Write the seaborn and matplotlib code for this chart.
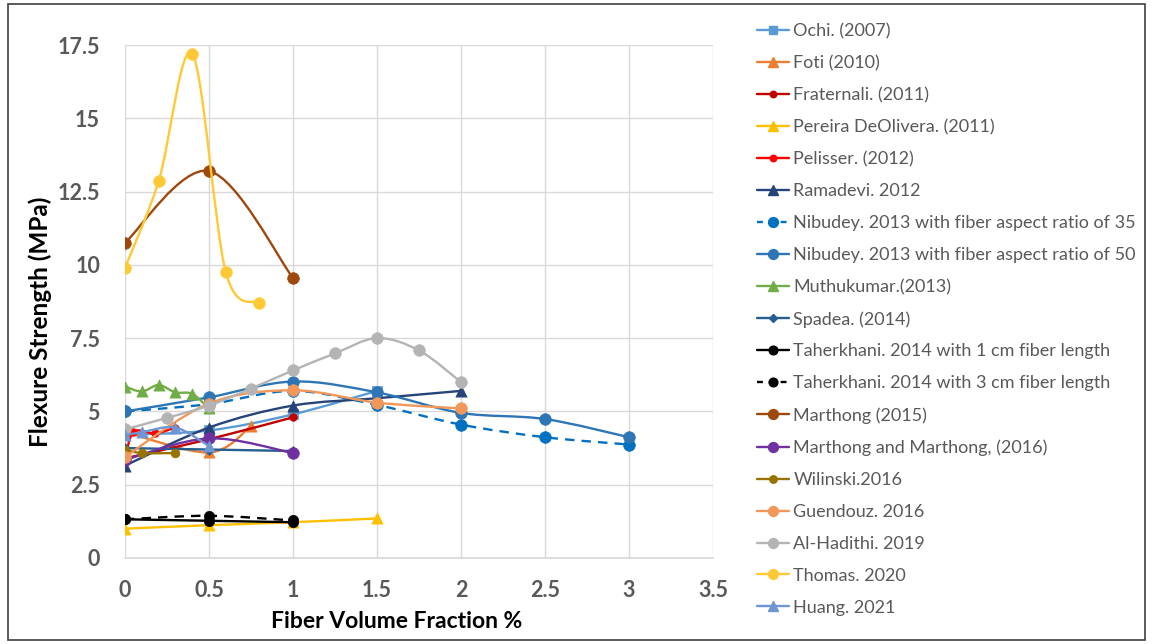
import numpy as np
import pandas as pd
import matplotlib
matplotlib.use("Agg")
import matplotlib.pyplot as plt
from matplotlib.path import Path
from matplotlib.patches import PathPatch, Rectangle
from matplotlib.lines import Line2D
import seaborn as sns

# ---------------- data ----------------
ochi_x = [0, 0.5, 1, 1.5]
ochi_y = [4.2, 4.35, 4.9, 5.7]
foti_x = [0, 0.5, 0.75]
foti_y = [4.3, 3.6, 4.5]
fraternali_x = [0, 0.5, 1]
fraternali_y = [3.4, 4.05, 4.8]
pereira_x = [0, 0.5, 1, 1.5]
pereira_y = [1.0, 1.12, 1.22, 1.35]
pelisser_x = [0, 0.05, 0.18, 0.3]
pelisser_y = [3.3, 4.3, 4.25, 4.45]
ramadevi_x = [0, 0.5, 1, 1.5, 2]
ramadevi_y = [3.15, 4.45, 5.2, 5.45, 5.7]
nib35_x = [0, 0.5, 1, 1.5, 2, 2.5, 3]
nib35_y = [5.0, 5.25, 5.7, 5.22, 4.55, 4.12, 3.87]
nib50_x = [0, 0.5, 1, 1.5, 2, 2.5, 3]
nib50_y = [5.0, 5.48, 6.02, 5.65, 4.95, 4.74, 4.12]
muthu_x = [0, 0.1, 0.2, 0.3, 0.4, 0.5]
muthu_y = [5.85, 5.68, 5.9, 5.65, 5.6, 5.1]
spadea_x = [0, 0.5, 1]
spadea_y = [3.75, 3.7, 3.65]
taher1_x = [0, 0.5, 1]
taher1_y = [1.32, 1.27, 1.22]
taher3_x = [0, 0.5, 1]
taher3_y = [1.32, 1.44, 1.28]
marthong15_x = [0, 0.5, 1]
marthong15_y = [10.75, 13.2, 9.55]
marthong16_x = [0, 0.5, 1]
marthong16_y = [3.35, 4.08, 3.58]
wilinski_x = [0, 0.1, 0.3]
wilinski_y = [3.7, 3.58, 3.58]
guendouz_x = [0, 0.5, 1, 1.5, 2]
guendouz_y = [3.45, 5.27, 5.72, 5.3, 5.1]
hadithi_x = [0, 0.25, 0.5, 0.75, 1, 1.25, 1.5, 1.75, 2]
hadithi_y = [4.39, 4.78, 5.2, 5.78, 6.4, 6.98, 7.5, 7.08, 6.0]
thomas_x = [0, 0.2, 0.4, 0.6, 0.8]
thomas_y = [9.9, 12.85, 17.2, 9.75, 8.7]
huang_x = [0, 0.1, 0.3, 0.5]
huang_y = [4.19, 4.29, 4.45, 3.82]

x_ticks = [0, 0.5, 1, 1.5, 2, 2.5, 3, 3.5]
y_ticks = [0, 2.5, 5, 7.5, 10, 12.5, 15, 17.5]
x_tick_labels = ["0", "0.5", "1", "1.5", "2", "2.5", "3", "3.5"]
y_tick_labels = ["0", "2.5", "5", "7.5", "10", "12.5", "15", "17.5"]

# label, x, y, color, marker, marker size (pt^2 for scatter), linestyle
series = [
    ("Ochi. (2007)", ochi_x, ochi_y, "#5B9BD5", "s", 55, "-"),
    ("Foti (2010)", foti_x, foti_y, "#ED7D31", "^", 65, "-"),
    ("Fraternali. (2011)", fraternali_x, fraternali_y, "#C00000", "o", 30, "-"),
    ("Pereira DeOlivera. (2011)", pereira_x, pereira_y, "#FFC000", "^", 65, "-"),
    ("Pelisser. (2012)", pelisser_x, pelisser_y, "#FF0000", "o", 30, "-"),
    ("Ramadevi. 2012", ramadevi_x, ramadevi_y, "#264478", "^", 65, "-"),
    ("Nibudey. 2013 with fiber aspect ratio of 35", nib35_x, nib35_y, "#0070C0", "o", 70, "--"),
    ("Nibudey. 2013 with fiber aspect ratio of 50", nib50_x, nib50_y, "#2E75B6", "o", 70, "-"),
    ("Muthukumar.(2013)", muthu_x, muthu_y, "#70AD47", "^", 65, "-"),
    ("Spadea. (2014)", spadea_x, spadea_y, "#255E91", "D", 25, "-"),
    ("Taherkhani. 2014 with 1 cm fiber length", taher1_x, taher1_y, "#000000", "o", 55, "-"),
    ("Taherkhani. 2014 with 3 cm fiber length", taher3_x, taher3_y, "#000000", "o", 55, "--"),
    ("Marthong (2015)", marthong15_x, marthong15_y, "#9E480E", "o", 70, "-"),
    ("Marthong and Marthong, (2016)", marthong16_x, marthong16_y, "#7030A0", "o", 70, "-"),
    ("Wilinski.2016", wilinski_x, wilinski_y, "#997300", "o", 40, "-"),
    ("Guendouz. 2016", guendouz_x, guendouz_y, "#F1975A", "o", 70, "-"),
    ("Al-Hadithi. 2019", hadithi_x, hadithi_y, "#B4B4B4", "o", 70, "-"),
    ("Thomas. 2020", thomas_x, thomas_y, "#FFC935", "o", 70, "-"),
    ("Huang. 2021", huang_x, huang_y, "#6F95D2", "^", 65, "-"),
]

sns.set_theme(style="white")
plt.rcParams['font.family'] = ['Lato', 'DejaVu Sans']

fig = plt.figure(figsize=(11.53, 6.44), dpi=100)
ax = fig.add_axes([125 / 1153, 86 / 644, 588 / 1153, 513 / 644])


def smooth_path(xs, ys):
    n = len(xs)
    verts = [(xs[0], ys[0])]
    codes = [Path.MOVETO]
    for i in range(n - 1):
        p0 = i - 1 if i > 0 else i
        p3 = i + 2 if i + 2 < n else i + 1
        c1 = (xs[i] + (xs[i + 1] - xs[p0]) / 6.0, ys[i] + (ys[i + 1] - ys[p0]) / 6.0)
        c2 = (xs[i + 1] - (xs[p3] - xs[i]) / 6.0, ys[i + 1] - (ys[p3] - ys[i]) / 6.0)
        verts += [c1, c2, (xs[i + 1], ys[i + 1])]
        codes += [Path.CURVE4] * 3
    return Path(verts, codes)


handles = []
for k, (label, xs, ys, color, marker, size, ls) in enumerate(series):
    z = 3 + k * 0.1
    patch = PathPatch(smooth_path(xs, ys), facecolor="none", edgecolor=color,
                      lw=1.7, zorder=z, capstyle="butt")
    if ls == "--":
        patch.set_linestyle((0, (4, 3)))
    ax.add_patch(patch)
    df = pd.DataFrame({"x": xs, "y": ys})
    sns.scatterplot(data=df, x="x", y="y", marker=marker, s=size, color=color,
                    edgecolor=color, linewidth=0.5, ax=ax, zorder=z + 0.05, legend=False)
    h = Line2D([0], [0], color=color, lw=1.7, marker=marker,
               markersize=np.sqrt(size) * 0.85, markeredgecolor=color,
               linestyle=(0, (2.5, 2.5)) if ls == "--" else "-")
    handles.append(h)

ax.set_xlim(0, 3.5)
ax.set_ylim(0, 17.5)
ax.set_xticks(x_ticks)
ax.set_xticklabels(x_tick_labels)
ax.set_yticks(y_ticks)
ax.set_yticklabels(y_tick_labels)
ax.grid(True, color="#D9D9D9", lw=1.0)
ax.set_axisbelow(True)
for s in ax.spines.values():
    s.set_visible(False)
ax.spines['bottom'].set_visible(True)
ax.spines['bottom'].set_color("#D9D9D9")
ax.tick_params(axis='both', length=0, labelsize=15.5, labelcolor="#595959")
ax.tick_params(axis='y', pad=18)
ax.tick_params(axis='x', pad=16)
for t in ax.get_xticklabels() + ax.get_yticklabels():
    t.set_fontweight("bold")

ax.set_xlabel("Fiber Volume Fraction %", fontsize=16.5, fontweight="bold", color="black")
ax.set_ylabel("Flexure Strength (MPa)", fontsize=17.5, fontweight="bold", color="black")
ax.xaxis.set_label_coords((397 - 125) / 588, (558 - 611) / 513)
ax.yaxis.set_label_coords((52 - 125) / 588, (558 - 322) / 513)

leg = fig.legend(handles=handles, labels=[s[0] for s in series],
                 loc="upper left", bbox_to_anchor=(750 / 1153, 1 - 16 / 644),
                 frameon=False, fontsize=13.0, handlelength=1.75, handletextpad=0.25,
                 labelspacing=0.88, borderaxespad=0)
for t in leg.get_texts():
    t.set_color("#595959")

fig.patches.append(Rectangle((8 / 1153, 4 / 644), 1 - 16 / 1153, 1 - 8 / 644,
                             transform=fig.transFigure, fill=False,
                             edgecolor="#404040", lw=1.2))

fig.savefig("out.png", dpi=100)
